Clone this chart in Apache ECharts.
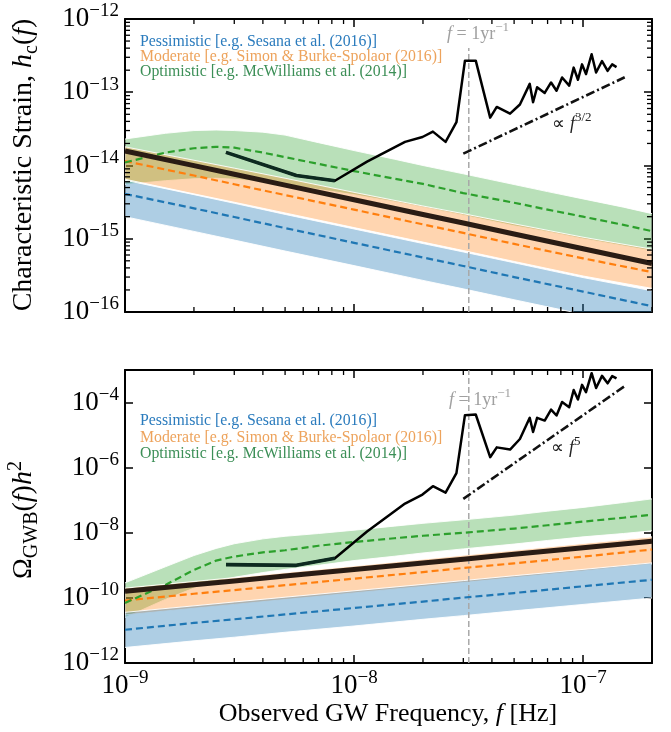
<!DOCTYPE html>
<html><head><meta charset="utf-8">
<script src="https://cdn.jsdelivr.net/npm/echarts@6/dist/echarts.min.js"></script>
<style>html,body{margin:0;padding:0;background:#fff}#c{width:671px;height:732px}</style>
</head><body><div id="c"></div>
<script>
// ---------- data ----------
const FREQ = [1e-9, 2e-9, 3e-9, 5e-9, 1e-8, 2e-8, 3e-8, 5e-8, 1e-7, 2e-7];
const FREQ_OPT = [1e-9,1.5e-9,2e-9,2.5e-9,3e-9,4e-9,5e-9,7e-9,1e-8,1.5e-8,2e-8,3e-8,5e-8,7e-8,1e-7,1.5e-7,2e-7];
const F_YR = 3.17e-8;

// top panel: characteristic strain
const HC_MEDIAN   = [1.58e-14, 9.95e-15, 7.6e-15, 5.4e-15, 3.4e-15, 2.14e-15, 1.64e-15, 1.16e-15, 7.3e-16, 4.6e-16];
const HC_MOD      = [1.15e-14, 7.3e-15, 5.55e-15, 3.95e-15, 2.5e-15, 1.57e-15, 1.2e-15, 8.5e-16, 5.4e-16, 3.5e-16];
const HC_MOD_HI   = [1.8e-14, 1.18e-14, 9.2e-15, 6.7e-15, 4.3e-15, 2.8e-15, 2.2e-15, 1.6e-15, 1.05e-15, 7.2e-16];
const HC_MOD_LO   = [6.5e-15, 4.1e-15, 3.15e-15, 2.25e-15, 1.42e-15, 9e-16, 6.9e-16, 4.9e-16, 3.1e-16, 2.1e-16];
const HC_PES      = [4.1e-15, 2.6e-15, 1.98e-15, 1.4e-15, 8.8e-16, 5.55e-16, 4.25e-16, 3.0e-16, 1.9e-16, 1.2e-16];
const HC_PES_HI   = [6.3e-15, 4.0e-15, 3.05e-15, 2.15e-15, 1.36e-15, 8.6e-16, 6.6e-16, 4.7e-16, 2.95e-16, 1.95e-16];
const HC_PES_LO   = [2.0e-15, 1.26e-15, 9.6e-16, 6.8e-16, 4.3e-16, 2.7e-16, 2.07e-16, 1.47e-16, 9.3e-17, 5.9e-17];
const HC_OPT      = [1.1e-14, 1.5e-14, 1.72e-14, 1.8e-14, 1.75e-14, 1.5e-14, 1.3e-14, 1.05e-14, 8.4e-15, 6.6e-15, 5.6e-15, 4.2e-15, 3.1e-15, 2.5e-15, 2.0e-15, 1.55e-15, 1.27e-15];
const HC_OPT_HI   = [2.3e-14, 2.75e-14, 3.0e-14, 3.05e-14, 3.0e-14, 2.85e-14, 2.6e-14, 2.05e-14, 1.6e-14, 1.22e-14, 1.0e-14, 7.7e-15, 5.5e-15, 4.4e-15, 3.5e-15, 2.7e-15, 2.2e-15];
const HC_OPT_LO   = [5.5e-15, 6.2e-15, 6.6e-15, 6.7e-15, 6.5e-15, 6.0e-15, 5.5e-15, 4.7e-15, 4.0e-15, 3.2e-15, 2.7e-15, 2.1e-15, 1.5e-15, 1.25e-15, 1.0e-15, 8.0e-16, 6.8e-16];

// bottom panel: Omega_GWB h^2
const OM_MEDIAN   = [1.6e-10, 2.55e-10, 3.3e-10, 4.7e-10, 7.4e-10, 1.18e-9, 1.55e-9, 2.2e-9, 3.45e-9, 5.5e-9];
const OM_MOD      = [8.3e-11, 1.34e-10, 1.74e-10, 2.45e-10, 3.9e-10, 6.2e-10, 8.3e-10, 1.15e-9, 1.85e-9, 3.07e-9];
const OM_MOD_HI   = [2.0e-10, 3.2e-10, 4.2e-10, 6.0e-10, 9.6e-10, 1.55e-9, 2.05e-9, 2.9e-9, 4.7e-9, 7.5e-9];
const OM_MOD_LO   = [3.0e-11, 4.8e-11, 6.3e-11, 8.9e-11, 1.42e-10, 2.25e-10, 2.95e-10, 4.2e-10, 6.7e-10, 1.1e-9];
const OM_PES      = [1.05e-11, 1.7e-11, 2.2e-11, 3.1e-11, 4.9e-11, 7.7e-11, 1.02e-10, 1.41e-10, 2.27e-10, 3.6e-10];
const OM_PES_HI   = [3.6e-11, 5.7e-11, 7.5e-11, 1.05e-10, 1.65e-10, 2.6e-10, 3.4e-10, 4.8e-10, 7.5e-10, 1.19e-9];
const OM_PES_LO   = [3.0e-12, 4.8e-12, 6.2e-12, 8.8e-12, 1.37e-11, 2.2e-11, 2.85e-11, 4.0e-11, 6.3e-11, 9.9e-11];
const OM_OPT      = [7e-11, 2.5e-10, 7.2e-10, 1.4e-9, 1.86e-9, 2.5e-9, 2.9e-9, 4.0e-9, 5.2e-9, 6.8e-9, 8.1e-9, 1.0e-8, 1.35e-8, 1.7e-8, 2.2e-8, 2.9e-8, 3.6e-8];
const OM_OPT_HI   = [2.9e-10, 9e-10, 2.0e-9, 3.3e-9, 4.6e-9, 6.5e-9, 7.8e-9, 9.5e-9, 1.2e-8, 1.6e-8, 1.95e-8, 2.5e-8, 3.5e-8, 4.6e-8, 6.0e-8, 8.5e-8, 1.1e-7];
const OM_OPT_LO   = [2.5e-11, 9e-11, 2.0e-10, 3.2e-10, 4.3e-10, 6.0e-10, 7.5e-10, 1.0e-9, 1.4e-9, 1.9e-9, 2.4e-9, 3.2e-9, 4.5e-9, 5.8e-9, 7.5e-9, 9.5e-9, 1.15e-8];

// PTA sensitivity curve
const SENS_FREQ = [2.76e-9, 5.6e-9, 8.25e-9, 1.14e-8, 1.67e-8, 1.99e-8, 2.21e-8, 2.51e-8, 2.8e-8, 3.05e-8, 3.4e-8, 3.93e-8, 4.2e-8, 4.8e-8, 5.3e-8, 5.85e-8, 6.05e-8, 6.3e-8, 6.8e-8, 7.25e-8, 7.66e-8, 8.1e-8, 8.7e-8, 9.1e-8, 9.5e-8, 9.9e-8, 1.03e-7, 1.09e-7, 1.14e-7, 1.21e-7, 1.28e-7, 1.34e-7, 1.4e-7];
const SENS_HC   = [1.51e-14, 7.3e-15, 6.2e-15, 1.13e-14, 2.1e-14, 2.45e-14, 2.9e-14, 2.1e-14, 3.9e-14, 2.7e-13, 2.7e-13, 4.5e-14, 6.3e-14, 5.1e-14, 6.8e-14, 1.3e-13, 7.3e-14, 1.17e-13, 9.8e-14, 1.36e-13, 1.05e-13, 1.59e-13, 1.23e-13, 2.17e-13, 1.48e-13, 2.4e-13, 1.77e-13, 3.3e-13, 1.86e-13, 2.67e-13, 1.96e-13, 2.4e-13, 2.2e-13];
const SENS_OM   = [1.05e-9, 1.0e-9, 1.65e-9, 1.1e-8, 7.9e-8, 1.49e-7, 2.7e-7, 1.7e-7, 6.8e-7, 4.1e-5, 4.3e-5, 2.1e-6, 4.2e-6, 3.6e-6, 7.6e-6, 3.4e-5, 1.25e-5, 3.4e-5, 2.8e-5, 6.1e-5, 4.0e-5, 1.04e-4, 7.2e-5, 2.44e-4, 1.24e-4, 3.5e-4, 2.08e-4, 8.0e-4, 2.8e-4, 6.6e-4, 3.9e-4, 6.5e-4, 5.5e-4];

// power-law guides
const GUIDE_FREQ = [3.0e-8, 1.52e-7];
const GUIDE_HC = [1.45e-14, 1.6e-13];
const GUIDE_OM = [1.1e-7, 3.2e-4];

// axis ranges and tick values
const X_RANGE = [1e-9, 2e-7];
const Y_TOP_RANGE = [1e-16, 1e-12];
const Y_BOT_RANGE = [1e-12, 1e-3];
const X_MINOR_TICKS = [2e-9,3e-9,4e-9,5e-9,6e-9,7e-9,8e-9,9e-9,2e-8,3e-8,4e-8,5e-8,6e-8,7e-8,8e-8,9e-8,2e-7];
const Y_TOP_MINOR_TICKS = [];
[1e-16,1e-15,1e-14,1e-13].forEach(d => { for (let k = 2; k <= 9; k++) Y_TOP_MINOR_TICKS.push(k * d); });

// ---------- style ----------
const SERIF = '"Liberation Serif", "Times New Roman", serif';
const C_BLUE = '#1f77b4', C_ORANGE = '#ff7f0e', C_GREEN = '#2ca02c';
const B_BLUE = 'rgba(31,119,180,0.36)', B_ORANGE = 'rgba(255,127,14,0.33)', B_GREEN = 'rgba(44,160,44,0.33)';

const chart = echarts.init(document.getElementById('c'), null, {renderer: 'canvas'});

function pw(xs, ys) { return xs.map((x, i) => [x, ys[i]]); }

function decadeLabel(v, step, base) {
  const l = Math.log10(v);
  const e = Math.round(l);
  if (Math.abs(l - e) > 1e-6) return '';
  if (step && ((e - base) % step) !== 0) return '';
  return '{b|10}{s|−' + (-e) + '}';
}
const LABEL_RICH = {
  b: {fontFamily: SERIF, fontSize: 27, color: '#000', lineHeight: 34},
  s: {fontFamily: SERIF, fontSize: 19, color: '#000', lineHeight: 19, verticalAlign: 'top'}
};

function xAxisDef(grid, pos, showLabel) {
  return {
    gridIndex: grid, type: 'log', logBase: 10, min: X_RANGE[0], max: X_RANGE[1], position: pos,
    axisLine: {show: true, onZero: false, lineStyle: {color: '#000', width: 2}},
    axisTick: {show: true, inside: true, length: 8, lineStyle: {color: '#000', width: 1.5}},
    minorTick: {show: false}, splitLine: {show: false},
    axisLabel: {show: showLabel, margin: 6, formatter: v => decadeLabel(v), rich: LABEL_RICH}
  };
}
function yAxisDef(grid, pos, showLabel, range, interval) {
  return {
    gridIndex: grid, type: 'log', logBase: 10, min: range[0], max: range[1], interval: interval, position: pos,
    axisLine: {show: true, onZero: false, lineStyle: {color: '#000', width: 2}},
    axisTick: {show: true, inside: true, length: 8, lineStyle: {color: '#000', width: 1.5}},
    minorTick: {show: false}, splitLine: {show: false},
    axisLabel: {show: showLabel, margin: 6, formatter: v => decadeLabel(v, interval, Math.log10(range[0])), rich: LABEL_RICH}
  };
}

function band(xi, yi, freqs, lo, hi, color) {
  return {
    type: 'custom', xAxisIndex: xi, yAxisIndex: yi, clip: true, silent: true, z: 1,
    data: [[freqs[0], hi[0]]],
    renderItem: (params, api) => {
      const pts = [];
      for (let i = 0; i < freqs.length; i++) pts.push(api.coord([freqs[i], hi[i]]));
      for (let i = freqs.length - 1; i >= 0; i--) pts.push(api.coord([freqs[i], lo[i]]));
      return {type: 'polygon', shape: {points: pts}, style: {fill: color, stroke: 'rgba(255,255,255,0.9)', lineWidth: 1}};
    }
  };
}
function line(xi, yi, xs, ys, color, width, type, z) {
  return {
    type: 'line', xAxisIndex: xi, yAxisIndex: yi, data: pw(xs, ys), showSymbol: false, symbol: 'none',
    silent: true, animation: false, clip: true, z: z || 3,
    lineStyle: {color: color, width: width, type: type || 'solid', cap: 'butt', join: 'round'}
  };
}
function xMinor(xi, yi, yAnchor) {
  return {
    type: 'custom', xAxisIndex: xi, yAxisIndex: yi, clip: false, silent: true, z: 10,
    data: X_MINOR_TICKS.map(v => [v, yAnchor]),
    renderItem: (params, api) => {
      const x = api.coord([api.value(0), api.value(1)])[0];
      const cs = params.coordSys;
      const st = {stroke: '#000', lineWidth: 1.3};
      return {type: 'group', children: [
        {type: 'line', shape: {x1: x, y1: cs.y + cs.height, x2: x, y2: cs.y + cs.height - 5}, style: st},
        {type: 'line', shape: {x1: x, y1: cs.y, x2: x, y2: cs.y + 5}, style: st}
      ]};
    }
  };
}
function yMinor(xi, yi, xAnchor, ticks) {
  return {
    type: 'custom', xAxisIndex: xi, yAxisIndex: yi, clip: false, silent: true, z: 10,
    data: ticks.map(v => [xAnchor, v]),
    renderItem: (params, api) => {
      const y = api.coord([api.value(0), api.value(1)])[1];
      const cs = params.coordSys;
      const st = {stroke: '#000', lineWidth: 1.3};
      return {type: 'group', children: [
        {type: 'line', shape: {x1: cs.x, y1: y, x2: cs.x + 5, y2: y}, style: st},
        {type: 'line', shape: {x1: cs.x + cs.width, y1: y, x2: cs.x + cs.width - 5, y2: y}, style: st}
      ]};
    }
  };
}

function panelSeries(xi, yi, yRange, d) {
  return [
    band(xi, yi, FREQ_OPT, d.optLo, d.optHi, B_GREEN),
    band(xi, yi, FREQ, d.modLo, d.modHi, B_ORANGE),
    band(xi, yi, FREQ, d.pesLo, d.pesHi, B_BLUE),
    line(xi, yi, [F_YR, F_YR], yRange, '#a8a8a8', 1.5, [6, 3], 2),
    line(xi, yi, FREQ, d.pes, C_BLUE, 2.2, [7, 4]),
    line(xi, yi, FREQ, d.mod, C_ORANGE, 2.2, [7, 4]),
    line(xi, yi, FREQ_OPT, d.opt, C_GREEN, 2.2, [7, 4]),
    line(xi, yi, FREQ, d.med, '#2a1c14', 5, 'solid', 4),
    line(xi, yi, SENS_FREQ, d.sens, '#000', 2.5, 'solid', 5),
    line(xi, yi, SENS_FREQ.slice(0, 3), d.sens.slice(0, 3), '#0d2a20', 3.6, 'solid', 6),
    line(xi, yi, GUIDE_FREQ, d.guide, '#111', 2.6, [9, 3, 2, 3], 5)
  ];
}

const series = [].concat(
  panelSeries(0, 0, Y_TOP_RANGE, {optLo: HC_OPT_LO, optHi: HC_OPT_HI, modLo: HC_MOD_LO, modHi: HC_MOD_HI, pesLo: HC_PES_LO, pesHi: HC_PES_HI,
    pes: HC_PES, mod: HC_MOD, opt: HC_OPT, med: HC_MEDIAN, sens: SENS_HC, guide: GUIDE_HC}),
  panelSeries(2, 2, Y_BOT_RANGE, {optLo: OM_OPT_LO, optHi: OM_OPT_HI, modLo: OM_MOD_LO, modHi: OM_MOD_HI, pesLo: OM_PES_LO, pesHi: OM_PES_HI,
    pes: OM_PES, mod: OM_MOD, opt: OM_OPT, med: OM_MEDIAN, sens: SENS_OM, guide: GUIDE_OM}),
  [xMinor(0, 0, 1e-14), yMinor(0, 0, 1e-8, Y_TOP_MINOR_TICKS), xMinor(2, 2, 1e-8)]
);

function txt(x, y, text, color, size) {
  return {type: 'text', x: x, y: y, silent: true, z: 100,
    style: {text: text, fill: color, font: size + 'px ' + SERIF, verticalAlign: 'middle', align: 'left'}};
}
function richText(x, y, text, color, size, align, rotation, subScale) {
  const ss = Math.round(size * (subScale || 0.7));
  return {type: 'text', x: x, y: y, rotation: rotation || 0, silent: true, z: 100,
    style: {text: text, fill: color, font: size + 'px ' + SERIF, align: align || 'center', verticalAlign: 'middle',
      rich: {
        n: {fontFamily: SERIF, fontSize: size, fill: color, lineHeight: size + 8},
        i: {fontFamily: SERIF, fontSize: size, fontStyle: 'italic', fill: color, lineHeight: size + 8},
        sub: {fontFamily: SERIF, fontSize: ss, fill: color, lineHeight: ss, verticalAlign: 'bottom'},
        sup: {fontFamily: SERIF, fontSize: ss, fill: color, lineHeight: ss, verticalAlign: 'top'}
      }}};
}

const LEG = [
  ['Pessimistic [e.g. Sesana et al. (2016)]', '#2a7bbd'],
  ['Moderate [e.g. Simon & Burke-Spolaor (2016)]', '#eda35c'],
  ['Optimistic [e.g. McWilliams et al. (2014)]', '#3c8f57']
];
const graphic = [];
LEG.forEach((l, i) => {
  graphic.push(txt(140, 42 + i * 15, l[0], l[1], 15.8));
  graphic.push(txt(140, 421 + i * 16.5, l[0], l[1], 15.8));
});
graphic.push({type: 'rect', shape: {x: 462, y: 20, width: 14, height: 28}, style: {fill: '#fff'}, silent: true, z: 99});
graphic.push(richText(478, 34, '{i|f}{n| = 1yr}{sup|−1}', '#a0a0a0', 18));
graphic.push(richText(480, 400, '{i|f}{n| = 1yr}{sup|−1}', '#a0a0a0', 18));
graphic.push(richText(572, 124, '{n|∝ }{i|f}{sup|3/2}', '#222', 18));
graphic.push(richText(566, 448, '{n|∝ }{i|f}{sup|5}', '#222', 18));
graphic.push(richText(24, 165, '{n|Characteristic Strain, }{i|h}{sub|c}{n|(}{i|f}{n|)}', '#000', 28, 'center', Math.PI / 2));
graphic.push(richText(24, 520, '{n|Ω}{sub|GWB}{n|(}{i|f}{n|)}{i|h}{sup|2}', '#000', 28, 'center', Math.PI / 2, 0.72));
graphic.push(richText(388, 714, '{n|Observed GW Frequency, }{i|f}{n| [Hz]}', '#000', 26, 'center'));

chart.setOption({
  animation: false,
  backgroundColor: '#fff',
  grid: [
    {left: 125, top: 19, width: 527, height: 293},
    {left: 125, top: 370, width: 527, height: 293}
  ],
  xAxis: [xAxisDef(0, 'bottom', false), xAxisDef(0, 'top', false), xAxisDef(1, 'bottom', true), xAxisDef(1, 'top', false)],
  yAxis: [yAxisDef(0, 'left', true, Y_TOP_RANGE, 1), yAxisDef(0, 'right', false, Y_TOP_RANGE, 1),
          yAxisDef(1, 'left', true, Y_BOT_RANGE, 2), yAxisDef(1, 'right', false, Y_BOT_RANGE, 2)],
  series: series,
  graphic: graphic
});
</script></body></html>
